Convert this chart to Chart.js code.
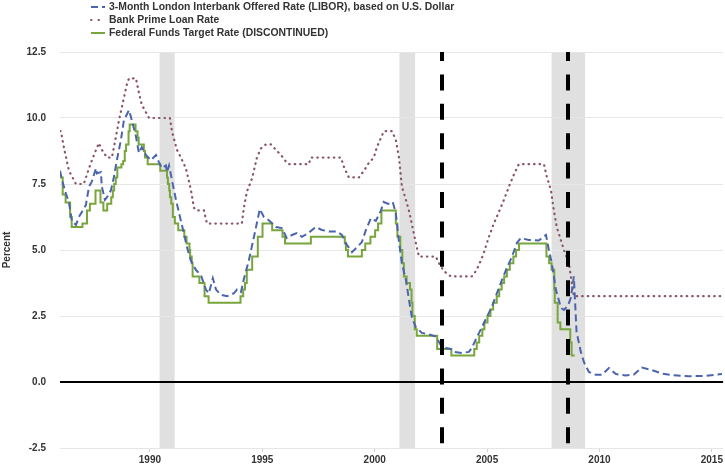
<!DOCTYPE html>
<html lang="en">
<head>
  <meta charset="UTF-8" />
  <title>LIBOR, Prime Rate and Fed Funds Target</title>
  <script src="https://cdn.jsdelivr.net/npm/chart.js"></script>
  <style>
    body {
      margin: 0;
      background: #fff;
      font-family: 'Liberation Sans', Arial, sans-serif;
    }

    .wrap {
      position: relative;
      width: 725px;
      height: 466px;
    }

    #legend {
      position: absolute;
      left: 90px;
      top: 0;
      font-size: 10.4px;
      font-weight: bold;
      color: #333;
    }

    #legend .row {
      display: flex;
      align-items: center;
      height: 13px;
    }

    #legend svg {
      margin-right: 3px;
    }
  </style>
</head>
<body>
  <div class="wrap">
    <canvas id="rates" width="725" height="466"></canvas>
    <div id="legend"></div>
  </div>

  <script>
    // series names, as in the legend
    const seriesLabels = [
      "3-Month London Interbank Offered Rate (LIBOR), based on U.S. Dollar",
      "Bank Prime Loan Rate",
      "Federal Funds Target Rate (DISCONTINUED)"
    ];

    // [year, percent]
    const liborPoints = [
      [1986.0, 8.0], [1986.09, 7.65], [1986.26, 7.15], [1986.4, 6.8], [1986.53, 6.1],
      [1986.71, 5.95], [1986.84, 6.25], [1986.98, 6.45], [1987.15, 6.7], [1987.29, 7.4],
      [1987.42, 7.6], [1987.6, 8.1], [1987.64, 7.9], [1987.82, 7.95], [1987.86, 7.4],
      [1988.0, 6.9], [1988.09, 7.0], [1988.27, 7.27], [1988.4, 7.77], [1988.53, 8.4],
      [1988.71, 9.17], [1988.84, 9.9], [1989.07, 10.3], [1989.2, 9.9], [1989.38, 9.3],
      [1989.51, 8.67], [1989.64, 8.9], [1989.82, 8.6], [1990.04, 8.4], [1990.27, 8.6],
      [1990.4, 8.33], [1990.53, 8.1], [1990.71, 8.2], [1990.76, 7.95], [1990.85, 8.2],
      [1990.98, 7.65], [1991.16, 6.9], [1991.38, 6.1], [1991.51, 5.64], [1991.65, 5.1],
      [1991.82, 4.6], [1992.05, 4.24], [1992.27, 4.05], [1992.49, 3.5], [1992.62, 3.36],
      [1992.8, 3.93], [1992.94, 3.5], [1993.16, 3.3], [1993.43, 3.25], [1993.74, 3.36],
      [1993.87, 3.5], [1994.05, 3.4], [1994.18, 3.9], [1994.4, 4.6], [1994.63, 5.5],
      [1994.89, 6.55], [1995.07, 6.25], [1995.29, 6.13], [1995.61, 5.87], [1995.87, 5.83],
      [1996.09, 5.45], [1996.32, 5.57], [1996.54, 5.64], [1996.76, 5.5], [1996.98, 5.6],
      [1997.38, 5.87], [1997.65, 5.76], [1997.96, 5.7], [1998.32, 5.7], [1998.54, 5.57],
      [1998.76, 5.2], [1998.99, 4.92], [1999.21, 5.1], [1999.43, 5.3], [1999.61, 5.76],
      [1999.83, 6.2], [2000.05, 6.1], [2000.28, 6.5], [2000.4, 6.82], [2000.6, 6.75],
      [2000.8, 6.82], [2000.94, 6.4], [2001.08, 5.3], [2001.21, 4.5], [2001.39, 3.86],
      [2001.52, 3.15], [2001.65, 2.46], [2001.83, 2.08], [2002.1, 1.86], [2002.41, 1.8],
      [2002.72, 1.72], [2002.94, 1.4], [2003.17, 1.29], [2003.39, 1.25], [2003.52, 1.14],
      [2003.88, 1.1], [2004.19, 1.14], [2004.32, 1.29], [2004.55, 1.7], [2004.77, 2.08],
      [2004.99, 2.46], [2005.21, 2.84], [2005.44, 3.37], [2005.66, 3.86], [2005.88, 4.32],
      [2006.1, 4.73], [2006.33, 5.27], [2006.5, 5.45], [2006.86, 5.38], [2007.3, 5.36],
      [2007.62, 5.57], [2007.75, 5.0], [2007.88, 4.5], [2008.06, 3.5], [2008.29, 2.8],
      [2008.42, 2.73], [2008.6, 2.9], [2008.73, 3.2], [2008.86, 4.0], [2008.98, 1.9],
      [2009.17, 1.14], [2009.31, 0.75], [2009.53, 0.38], [2009.84, 0.27], [2010.11, 0.27],
      [2010.42, 0.53], [2010.73, 0.3], [2011.17, 0.25], [2011.53, 0.28], [2011.89, 0.55],
      [2012.33, 0.45], [2012.78, 0.32], [2013.22, 0.26], [2013.98, 0.22], [2014.73, 0.23],
      [2015.45, 0.3]
    ];

    const primePoints = [
      [1986.0, 9.5], [1986.04, 9.5], [1986.17, 8.9], [1986.4, 8.0], [1986.71, 7.5],
      [1987.06, 7.5], [1987.29, 8.1], [1987.51, 8.6], [1987.73, 9.05], [1987.86, 8.8],
      [1988.09, 8.5], [1988.31, 8.5], [1988.49, 9.3], [1988.62, 9.9], [1988.75, 10.4],
      [1988.98, 11.3], [1989.07, 11.5], [1989.38, 11.5], [1989.5, 11.0], [1989.64, 10.5],
      [1989.96, 10.0], [1990.89, 10.0], [1990.98, 9.5], [1991.2, 8.8], [1991.38, 8.5],
      [1991.6, 8.1], [1991.82, 7.3], [1991.96, 6.6], [1992.05, 6.5], [1992.4, 6.5],
      [1992.54, 6.0], [1994.09, 6.0], [1994.18, 6.6], [1994.31, 7.2], [1994.54, 7.7],
      [1994.76, 8.5], [1994.94, 8.85], [1995.16, 9.0], [1995.38, 9.0], [1995.6, 8.8],
      [1995.83, 8.6], [1996.05, 8.35], [1996.18, 8.25], [1997.07, 8.25], [1997.16, 8.5],
      [1998.5, 8.5], [1998.63, 8.15], [1998.85, 7.75], [1999.3, 7.75], [1999.52, 8.0],
      [1999.74, 8.3], [1999.96, 8.5], [2000.1, 8.9], [2000.28, 9.25], [2000.41, 9.5],
      [2000.77, 9.5], [2000.94, 9.17], [2001.08, 8.5], [2001.21, 7.4], [2001.39, 6.9],
      [2001.52, 6.5], [2001.65, 6.0], [2001.83, 5.27], [2001.97, 4.75], [2002.72, 4.75],
      [2002.86, 4.5], [2003.08, 4.2], [2003.39, 4.0], [2004.32, 4.0], [2004.5, 4.2],
      [2004.64, 4.43], [2004.86, 4.9], [2005.08, 5.5], [2005.3, 6.0], [2005.53, 6.45],
      [2005.75, 6.9], [2005.97, 7.4], [2006.19, 7.85], [2006.41, 8.25], [2007.53, 8.25],
      [2007.66, 7.77], [2007.84, 7.27], [2007.97, 6.5], [2008.1, 5.87], [2008.28, 5.38],
      [2008.42, 5.0], [2008.64, 4.5], [2008.77, 3.75], [2008.86, 3.25], [2015.5, 3.25]
    ];

    // target changes: [year, new target]
    const fedFundsPoints = [
      [1986.0, 7.75], [1986.12, 7.1], [1986.25, 6.8], [1986.45, 6.25], [1986.52, 5.875],
      [1987.0, 6.0], [1987.2, 6.5], [1987.33, 6.75], [1987.58, 7.25], [1987.8, 6.8],
      [1987.93, 6.5], [1988.1, 6.75], [1988.28, 7.0], [1988.35, 7.25], [1988.41, 7.5],
      [1988.48, 7.75], [1988.55, 8.125], [1988.73, 8.25], [1988.81, 8.375], [1988.88, 8.75],
      [1988.94, 9.0], [1989.05, 9.5], [1989.1, 9.75], [1989.36, 9.5], [1989.45, 9.25],
      [1989.5, 9.0], [1989.73, 8.75], [1989.78, 8.5], [1989.9, 8.25], [1990.46, 8.0],
      [1990.76, 7.75], [1990.8, 7.5], [1990.86, 7.25], [1990.89, 7.0], [1990.95, 6.75],
      [1991.02, 6.25], [1991.11, 6.0], [1991.26, 5.75], [1991.53, 5.5], [1991.63, 5.25],
      [1991.76, 5.0], [1991.79, 4.75], [1991.86, 4.5], [1991.9, 4.0], [1992.2, 3.75],
      [1992.43, 3.25], [1992.61, 3.0], [1994.03, 3.25], [1994.15, 3.5], [1994.23, 3.75],
      [1994.31, 4.25], [1994.55, 4.75], [1994.8, 5.5], [1995.01, 6.0], [1995.44, 5.75],
      [1995.9, 5.5], [1996.01, 5.25], [1997.16, 5.5], [1998.67, 5.25], [1998.72, 5.0],
      [1998.81, 4.75], [1999.43, 5.0], [1999.58, 5.25], [1999.81, 5.5], [2000.02, 5.75],
      [2000.15, 6.0], [2000.3, 6.5], [2000.94, 6.0], [2001.01, 5.5], [2001.14, 5.0],
      [2001.23, 4.5], [2001.3, 4.0], [2001.42, 3.75], [2001.57, 3.5], [2001.64, 3.0],
      [2001.68, 2.5], [2001.78, 2.0], [2001.87, 1.75], [2002.78, 1.25], [2003.41, 1.0],
      [2004.43, 1.25], [2004.54, 1.5], [2004.65, 1.75], [2004.79, 2.0], [2004.88, 2.25],
      [2005.02, 2.5], [2005.15, 2.75], [2005.27, 3.0], [2005.43, 3.25], [2005.54, 3.5],
      [2005.65, 3.75], [2005.76, 4.0], [2005.88, 4.25], [2006.01, 4.5], [2006.17, 4.75],
      [2006.29, 5.0], [2006.42, 5.25], [2007.64, 4.75], [2007.76, 4.5], [2007.87, 4.25],
      [2007.99, 3.5], [2008.01, 3.0], [2008.14, 2.25], [2008.26, 2.0], [2008.7, 1.5],
      [2008.76, 1.0], [2008.9, 1.0]
    ];

    // shaded recessions [start, end] and the two dashed event lines
    const recessions = [[1990.43, 1991.1], [2001.1, 2001.8], [2007.87, 2009.36]];
    const markerYears = [2003.0, 2008.6];

    const xTicks = [1990, 1995, 2000, 2005, 2010, 2015];
    const yTicks = [-2.5, 0, 2.5, 5, 7.5, 10, 12.5];

    const colors = ["#4a64ad", "#8a5468", "#78a53c"];
    const dashes = [[7, 4], [0.5, 5], []];

    const toXY = pts => pts.map(([x, y]) => ({ x, y }));

    const overlays = {
      id: "overlays",
      beforeDraw(chart) {
        const { ctx, chartArea: a, scales: { x } } = chart;
        ctx.save();
        ctx.fillStyle = "#e0e0e0";
        recessions.forEach(([s, e]) => {
          const x0 = x.getPixelForValue(s);
          const x1 = x.getPixelForValue(e);
          ctx.fillRect(x0, a.top, x1 - x0, a.bottom - a.top);
        });
        ctx.restore();
      },
      afterDatasetsDraw(chart) {
        const { ctx, chartArea: a, scales: { x } } = chart;
        ctx.save();
        ctx.strokeStyle = "#000";
        ctx.lineWidth = 4;
        ctx.setLineDash([16, 13.4]);
        ctx.lineDashOffset = 7;
        markerYears.forEach(yr => {
          const px = Math.round(x.getPixelForValue(yr));
          ctx.beginPath();
          ctx.moveTo(px, a.top);
          ctx.lineTo(px, a.bottom - 3);
          ctx.stroke();
        });
        ctx.restore();
      }
    };

    const tickFont = { family: "'Liberation Sans', Arial, sans-serif", size: 10, weight: "bold" };

    new Chart(document.getElementById("rates"), {
      type: "line",
      data: {
        datasets: [
          {
            label: seriesLabels[0],
            data: toXY(liborPoints),
            borderColor: colors[0],
            borderDash: dashes[0],
            borderWidth: 2
          },
          {
            label: seriesLabels[1],
            data: toXY(primePoints),
            borderColor: colors[1],
            borderDash: dashes[1],
            borderCapStyle: "round",
            borderWidth: 2.2
          },
          {
            label: seriesLabels[2],
            data: toXY(fedFundsPoints),
            borderColor: colors[2],
            borderDash: dashes[2],
            borderWidth: 2,
            stepped: true
          }
        ]
      },
      options: {
        responsive: false,
        animation: false,
        devicePixelRatio: 1,
        layout: { padding: { top: 52, right: 1, left: 0, bottom: 0 } },
        elements: { point: { radius: 0 }, line: { tension: 0 } },
        plugins: { legend: { display: false }, tooltip: { enabled: false } },
        scales: {
          x: {
            type: "linear",
            min: 1986,
            max: 2015.5,
            afterBuildTicks: s => { s.ticks = xTicks.map(v => ({ value: v })); },
            afterFit: s => { s.height = 18; },
            grid: { drawOnChartArea: false, tickLength: 4, color: "#d0d0d0" },
            border: { display: false },
            ticks: { font: tickFont, color: "#333", padding: 2, maxRotation: 0, callback: v => String(v) }
          },
          y: {
            min: -2.5,
            max: 12.5,
            afterBuildTicks: s => { s.ticks = yTicks.map(v => ({ value: v })); },
            afterFit: s => { s.width = 60; },
            grid: {
              // transparent tick marks just push the labels left
              tickLength: 14,
              tickColor: "rgba(0,0,0,0)",
              color: c => (c.tick && c.tick.value === 0 ? "#000" : "#e6e6e6"),
              lineWidth: c => (c.tick && c.tick.value === 0 ? 2 : 1)
            },
            border: { display: false },
            ticks: { font: tickFont, color: "#333", padding: 0, callback: v => v.toFixed(1) },
            title: { display: true, text: "Percent", font: tickFont, color: "#333", padding: 1 }
          }
        }
      },
      plugins: [overlays]
    });

    // html legend with small line samples
    const legend = document.getElementById("legend");
    seriesLabels.forEach((label, i) => {
      const row = document.createElement("div");
      row.className = "row";
      const dash = i === 0 ? "7 4" : i === 1 ? "0.5 7" : "none";
      const cap = i === 1 ? "round" : "butt";
      row.innerHTML =
        '<svg width="16" height="6"><line x1="1" y1="3" x2="15" y2="3" stroke="' + colors[i] +
        '" stroke-width="2" stroke-dasharray="' + dash + '" stroke-linecap="' + cap + '"/></svg>';
      const span = document.createElement("span");
      span.textContent = label;
      row.appendChild(span);
      legend.appendChild(row);
    });
  </script>
</body>
</html>
